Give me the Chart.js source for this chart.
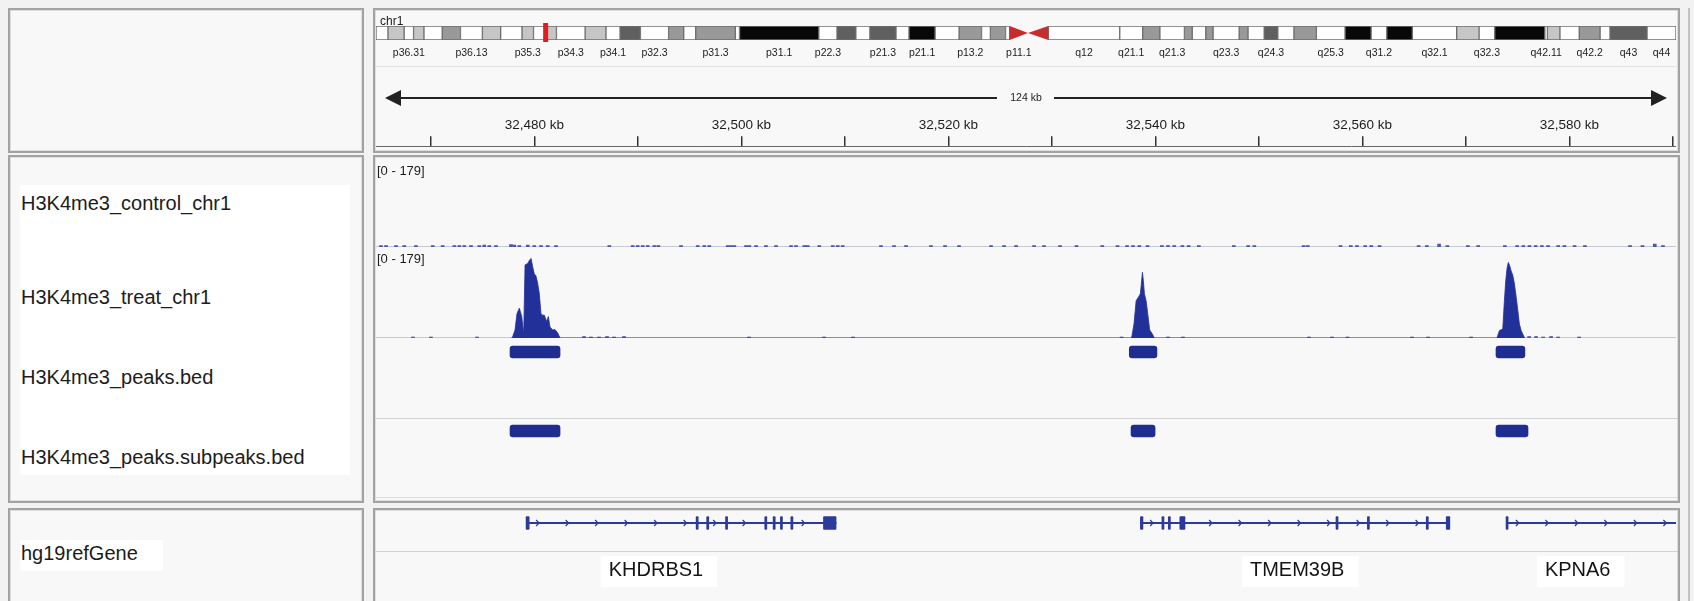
<!DOCTYPE html>
<html>
<head>
<meta charset="utf-8">
<title>IGV view chr1</title>
<script src="https://cdn.jsdelivr.net/npm/chart.js@4.4.1/dist/chart.umd.min.js"></script>
<style>
html,body{margin:0;padding:0;}
body{width:1694px;height:601px;background:#f2f2f2;position:relative;overflow:hidden;font-family:'Liberation Sans',Arial,Helvetica,sans-serif;color:#1c1c1c;}
.box{position:absolute;box-sizing:border-box;border:2px solid #a2a2a2;background:#f8f8f8;box-shadow:inset 0 0 0 1px #dedede;}
.wbg{position:absolute;background:#ffffff;}
.lbl{position:absolute;font-size:20px;line-height:24px;white-space:nowrap;z-index:3;}
.rng{position:absolute;font-size:13px;line-height:15px;white-space:nowrap;z-index:3;}
.hl{position:absolute;height:1px;z-index:1;}
canvas{position:absolute;z-index:2;}
</style>
</head>
<body>
<div class="box" style="left:8px;top:8px;width:356px;height:145px"></div>
<div class="box" style="left:373px;top:8px;width:1307px;height:145px"></div>
<div class="box" style="left:8px;top:155px;width:356px;height:348px"></div>
<div class="box" style="left:373px;top:155px;width:1307px;height:348px"></div>
<div class="box" style="left:8px;top:508px;width:356px;height:110px"></div>
<div class="box" style="left:373px;top:508px;width:1307px;height:110px"></div>
<div style="position:absolute;left:1688px;top:8px;width:2px;height:600px;background:#c4c4c4"></div>

<div class="wbg" style="left:20px;top:185px;width:330px;height:290px"></div>
<div class="wbg" style="left:20px;top:540px;width:143px;height:31px"></div>

<div class="hl" style="left:375px;top:66px;width:1303px;background:#e4e4e4"></div>
<div class="hl" style="left:375px;top:418px;width:1303px;background:#d2d2d2"></div>
<div class="hl" style="left:375px;top:497px;width:1303px;background:#dadada"></div>
<div class="hl" style="left:375px;top:551px;width:1303px;background:#d2d2d2"></div>

<div id="trackLabels"></div>
<div class="rng" id="chrName" style="left:380px;top:14px;font-size:12px;line-height:14px"></div>
<div class="rng" id="rngControl" style="left:377px;top:163px"></div>
<div class="rng" id="rngTreat" style="left:377px;top:251px"></div>

<canvas id="cIdeo" width="1300" height="50" style="left:376px;top:14px"></canvas>
<canvas id="cRuler" width="1300" height="160" style="left:376px;top:66px"></canvas>
<canvas id="cControl" width="1300" height="87" style="left:376px;top:160px"></canvas>
<canvas id="cTreat" width="1300" height="89" style="left:376px;top:249px"></canvas>
<canvas id="cPeaks" width="1300" height="24" style="left:376px;top:340px"></canvas>
<canvas id="cSub" width="1300" height="24" style="left:376px;top:419px"></canvas>
<canvas id="cGenes" width="1300" height="98" style="left:376px;top:503px"></canvas>

<script>
// ---------------- data ----------------
const chromName = 'chr1';
const chromLengthMb = 249.25;
const viewStartKb = 32464.7;
const viewEndKb = 32590.3;
const spanLabel = '124 kb';
const dataRangeMax = 179;

const trackNames = ['H3K4me3_control_chr1', 'H3K4me3_treat_chr1', 'H3K4me3_peaks.bed', 'H3K4me3_peaks.subpeaks.bed', 'hg19refGene'];
const trackLabelCenters = [203, 297, 377, 457, 553];

const bandNames = ['p36.33','p36.32','p36.31','p36.23','p36.22','p36.21','p36.13','p36.12','p36.11','p35.3','p35.2','p35.1','p34.3','p34.2','p34.1','p33','p32.3','p32.2','p32.1','p31.3','p31.2','p31.1','p22.3','p22.2','p22.1','p21.3','p21.2','p21.1','p13.3','p13.2','p13.1','p12','p11.2','p11.1','q11','q12','q21.1','q21.2','q21.3','q22','q23.1','q23.2','q23.3','q24.1','q24.2','q24.3','q25.1','q25.2','q25.3','q31.1','q31.2','q31.3','q32.1','q32.2','q32.3','q41','q42.11','q42.12','q42.13','q42.2','q42.3','q43','q44'];
const bandStartMb = [0,2.3,5.4,7.2,9.2,12.7,16.2,20.4,23.9,28.0,30.2,32.4,34.6,40.1,44.1,46.8,50.7,56.1,59.0,61.3,68.9,69.7,84.9,88.4,92.0,94.7,99.7,102.2,107.2,111.8,116.1,117.8,120.7,121.5,125.0,128.9,142.6,147.0,150.3,155.0,156.5,159.1,160.5,165.5,167.2,170.3,172.9,176.0,180.3,185.8,190.8,193.8,198.7,207.2,211.5,214.5,224.1,224.6,227.0,230.7,234.7,236.6,243.7];
const bandStain = ['gneg','gpos25','gneg','gpos25','gneg','gpos50','gneg','gpos25','gneg','gpos25','gneg','gpos25','gneg','gpos25','gneg','gpos75','gneg','gpos50','gneg','gpos50','gneg','gpos100','gneg','gpos75','gneg','gpos75','gneg','gpos100','gneg','gpos50','gneg','gpos50','gneg','acen','acen','gvar','gneg','gpos50','gneg','gpos50','gneg','gpos50','gneg','gpos50','gneg','gpos75','gneg','gpos50','gneg','gpos100','gneg','gpos100','gneg','gpos25','gneg','gpos100','gneg','gpos25','gneg','gpos50','gneg','gpos75','gneg'];
const labelledBands = ['p36.31','p36.13','p35.3','p34.3','p34.1','p32.3','p31.3','p31.1','p22.3','p21.3','p21.1','p13.2','p11.1','q12','q21.1','q21.3','q23.3','q24.3','q25.3','q31.2','q32.1','q32.3','q42.11','q42.2','q43','q44'];

const rulerTicks = [32470,32480,32490,32500,32510,32520,32530,32540,32550,32560,32570,32580,32590];
const rulerTickLabels = ['','32,480 kb','','32,500 kb','','32,520 kb','','32,540 kb','','32,560 kb','','32,580 kb',''];

// treat coverage (kb, value)
const treatX = [32477.80,32477.91,32478.13,32478.32,32478.55,32478.78,32478.97,32479.10,32479.36,32479.52,32479.68,32479.84,32479.99,32480.15,32480.32,32480.48,32480.64,32480.80,32480.96,32481.19,32481.35,32481.51,32481.77,32481.99,32482.26,32482.48,
  32537.62,32537.72,32537.94,32538.14,32538.36,32538.55,32538.75,32538.84,32538.94,32539.10,32539.26,32539.45,32539.68,32539.90,
  32573.00,32573.08,32573.24,32573.56,32573.72,32573.85,32573.98,32574.10,32574.24,32574.37,32574.53,32574.69,32574.86,32575.02,32575.17,32575.34,32575.60,32575.70];
const treatY = [0,3,16,49,60,43,8,147,150,156,160,143,129,125,110,89,49,46,46,33,43,22,16,17,10,0,
  0,2,29,75,82,89,132,115,89,75,49,16,9,0,
  0,5,15,18,75,115,141,152,145,135,126,109,82,55,28,15,3,0];
const treatDotX = [32468.27,32470.01,32474.46,32484.80,32485.47,32486.25,32487.02,32487.70,32488.66,32500.74,32507.99,32510.79,32536.74,32541.22,32542.67,32554.84,32557.06,32558.56,32564.80,32566.35,32570.50,32576.11,32576.78,32577.46,32578.23,32578.91,32580.94];
const treatDotY = [2,2,2,3,2,2,3,2,3,2,2,2,2,2,2,2,2,2,2,2,2,3,3,2,3,2,2];

// control coverage (kb, value)
const controlDotX = [32465.18,32465.67,32466.63,32467.43,32468.56,32470.18,32471.14,32472.27,32472.75,32473.23,32473.88,32474.68,32475.16,32475.65,32476.29,32477.74,32478.06,32478.55,32479.36,32479.99,32480.64,32481.29,32482.09,32487.24,32489.50,32489.98,32490.47,32490.95,32491.59,32491.98,32494.17,32495.78,32496.42,32496.90,32498.68,32499.00,32499.32,32500.45,32500.77,32501.42,32502.38,32503.35,32504.80,32505.28,32506.08,32506.41,32507.53,32508.83,32509.31,32509.79,32513.49,32514.75,32515.91,32518.32,32519.68,32521.03,32524.12,32525.38,32526.54,32528.28,32529.24,32530.79,32532.38,32534.87,32536.34,32537.26,32537.84,32538.45,32539.24,32540.63,32541.22,32541.82,32542.61,32543.21,32544.20,32547.58,32548.96,32549.56,32554.32,32554.72,32557.89,32558.88,32559.48,32560.27,32560.86,32561.66,32565.43,32566.23,32567.41,32568.21,32570.19,32571.19,32573.76,32574.95,32575.55,32576.14,32576.74,32577.34,32577.94,32578.92,32579.52,32580.50,32581.50,32585.86,32587.06,32588.25,32589.04];
const controlDotY = [3,3,3,3,3,3,3,3,3,3,3,3,4,3,3,5,4,3,4,3,3,3,3,3,3,3,3,3,3,3,3,3,3,3,3,3,3,3,3,3,3,3,3,3,3,3,3,3,3,3,3,3,3,3,3,3,3,3,3,3,3,3,3,3,3,3,3,3,3,3,3,3,3,3,3,3,3,3,3,3,3,3,3,3,3,3,3,3,6,3,3,3,3,3,3,3,3,3,3,3,3,3,3,3,3,6,3];

// peak calls (kb)
const peakStart = [32477.65, 32537.48, 32572.91];
const peakEnd   = [32482.48, 32540.15, 32575.70];
const subpeakStart = [32477.65, 32537.65, 32572.91];
const subpeakEnd   = [32482.48, 32539.97, 32576.00];

// genes (kb)
const geneNames = ['KHDRBS1', 'TMEM39B', 'KPNA6'];
const geneStart = [32479.30, 32538.62, 32573.96];
const geneEnd   = [32509.15, 32568.40, 32601.00];
const geneLabelPos = [32491.75, 32553.70, 32580.80];
const exonStart = [32479.20,32495.63,32496.65,32498.47,32502.26,32503.07,32503.77,32504.78,32507.93,
                   32538.55,32540.63,32541.25,32542.36,32557.45,32560.48,32566.17,32568.10,
                   32573.88];
const exonEnd   = [32479.50,32495.83,32496.85,32498.67,32502.46,32503.27,32503.97,32504.98,32509.15,
                   32538.80,32540.83,32541.45,32542.86,32557.65,32560.68,32566.37,32568.45,
                   32574.08];

// ---------------- styles ----------------
const FONT = "'Liberation Sans', Arial, sans-serif";
const SIGNAL = '#22309a';
const DOT = '#4c56aa';
const BED = '#1f2d90';
const GENE = '#2c3a9c';
const stainColor = {gneg:'#ffffff', gpos25:'#c6c6c6', gpos50:'#999999', gpos75:'#5f5f5f', gpos100:'#080808', gvar:'#ffffff', acen:'rgba(0,0,0,0)'};

// ---------------- html text ----------------
const tl = document.getElementById('trackLabels');
trackNames.forEach((n, i) => {
  const d = document.createElement('div');
  d.className = 'lbl';
  d.style.left = '21px';
  d.style.top = (trackLabelCenters[i] - 12) + 'px';
  d.textContent = n;
  tl.appendChild(d);
});
document.getElementById('chrName').textContent = chromName;
document.getElementById('rngControl').textContent = '[0 - ' + dataRangeMax + ']';
document.getElementById('rngTreat').textContent = '[0 - ' + dataRangeMax + ']';

const common = {
  responsive: false, animation: false, devicePixelRatio: 1, events: [],
};
const noLegend = {legend: {display: false}, tooltip: {enabled: false}};
const xView = {type: 'linear', min: viewStartKb, max: viewEndKb, display: false, offset: false};

// ---------------- ideogram ----------------
const bandEndMb = bandStartMb.map((s, i) => i < bandStartMb.length - 1 ? bandStartMb[i + 1] : chromLengthMb);
const ideoPlugin = {
  id: 'ideo',
  afterDatasetsDraw(chart) {
    const {ctx, chartArea: ca, scales: {x}} = chart;
    const mid = (ca.top + ca.bottom) / 2;
    ctx.save();
    ctx.fillStyle = '#c92c2c';
    bandNames.forEach((n, i) => {
      if (bandStain[i] !== 'acen') return;
      const x0 = x.getPixelForValue(bandStartMb[i]), x1 = x.getPixelForValue(bandEndMb[i]);
      ctx.beginPath();
      if (n[0] === 'p') { ctx.moveTo(x0, ca.top); ctx.lineTo(x1, mid); ctx.lineTo(x0, ca.bottom); }
      else { ctx.moveTo(x1, ca.top); ctx.lineTo(x0, mid); ctx.lineTo(x1, ca.bottom); }
      ctx.closePath(); ctx.fill();
    });
    const c = x.getPixelForValue((viewStartKb + viewEndKb) / 2000);
    const w = Math.max(5, x.getPixelForValue(viewEndKb / 1000) - x.getPixelForValue(viewStartKb / 1000));
    ctx.fillStyle = '#e01e1e';
    ctx.fillRect(c - w / 2, ca.top - 3, w, ca.bottom - ca.top + 5);
    ctx.fillStyle = '#1c1c1c';
    ctx.font = '10.5px ' + FONT;
    ctx.textAlign = 'center';
    ctx.textBaseline = 'middle';
    labelledBands.forEach(n => {
      const i = bandNames.indexOf(n);
      const px = x.getPixelForValue((bandStartMb[i] + bandEndMb[i]) / 2);
      ctx.fillText(n, px, ca.bottom + 13);
    });
    ctx.restore();
  }
};
new Chart(document.getElementById('cIdeo'), {
  type: 'bar',
  data: {
    labels: [chromName],
    datasets: [{
      data: bandStartMb.map((s, i) => ({x: [s, bandEndMb[i]], y: chromName})),
      backgroundColor: bandStain.map(s => stainColor[s]),
      borderColor: '#6e6e6e',
      borderWidth: bandStain.map(s => s === 'acen' ? 0 : 1),
      borderSkipped: false,
      barPercentage: 1, categoryPercentage: 1
    }]
  },
  options: Object.assign({}, common, {
    indexAxis: 'y',
    layout: {padding: {top: 12, bottom: 24, left: 0, right: 0}},
    scales: {x: {type: 'linear', min: 0, max: chromLengthMb, display: false, offset: false}, y: {display: false}},
    plugins: noLegend
  }),
  plugins: [ideoPlugin]
});

// ---------------- ruler ----------------
const arrowPlugin = {
  id: 'spanArrow',
  afterDraw(chart) {
    const {ctx, chartArea: ca} = chart;
    const y = 32, l = ca.left + 9, r = ca.right - 9, cx = (ca.left + ca.right) / 2;
    ctx.save();
    ctx.strokeStyle = '#222'; ctx.fillStyle = '#222'; ctx.lineWidth = 2;
    ctx.beginPath(); ctx.moveTo(l + 10, y); ctx.lineTo(cx - 29, y); ctx.moveTo(cx + 28, y); ctx.lineTo(r - 10, y); ctx.stroke();
    ctx.beginPath(); ctx.moveTo(l, y); ctx.lineTo(l + 16, y - 8); ctx.lineTo(l + 16, y + 8); ctx.closePath(); ctx.fill();
    ctx.beginPath(); ctx.moveTo(r, y); ctx.lineTo(r - 16, y - 8); ctx.lineTo(r - 16, y + 8); ctx.closePath(); ctx.fill();
    ctx.font = '10.5px ' + FONT; ctx.textAlign = 'center'; ctx.textBaseline = 'middle';
    ctx.fillStyle = '#1c1c1c';
    ctx.fillText(spanLabel, cx, y);
    ctx.restore();
  }
};
new Chart(document.getElementById('cRuler'), {
  type: 'scatter',
  data: {datasets: []},
  options: Object.assign({}, common, {
    layout: {padding: {top: 48, left: 0, right: 0, bottom: 0}},
    scales: {
      x: {
        type: 'linear', position: 'top', min: viewStartKb, max: viewEndKb, offset: false,
        afterBuildTicks: s => { s.ticks = rulerTicks.map(v => ({value: v})); },
        ticks: {autoSkip: false, maxRotation: 0, padding: 3, color: '#1c1c1c', font: {family: FONT, size: 13.5},
                callback: (v, i) => rulerTickLabels[i]},
        grid: {drawOnChartArea: false, drawTicks: true, tickLength: 10, color: '#333', lineWidth: 1.5},
        border: {display: true, color: '#666', width: 1}
      },
      y: {display: false}
    },
    plugins: noLegend
  }),
  plugins: [arrowPlugin]
});

// ---------------- signal tracks ----------------
const baselinePlugin = {
  id: 'baseline',
  beforeDatasetsDraw(chart) {
    const {ctx, chartArea: ca, scales: {y}} = chart;
    const py = Math.round(y.getPixelForValue(0)) - 0.5;
    ctx.save(); ctx.strokeStyle = '#c8c8d0'; ctx.lineWidth = 1;
    ctx.beginPath(); ctx.moveTo(ca.left, py); ctx.lineTo(ca.right, py); ctx.stroke(); ctx.restore();
  }
};
function signalChart(id, px, py, dx, dy) {
  const datasets = [];
  if (px) datasets.push({type: 'line', data: px.map((x, i) => ({x, y: py[i]})), fill: 'origin',
    backgroundColor: SIGNAL, borderColor: SIGNAL, borderWidth: 0.8, pointRadius: 0, tension: 0});
  datasets.push({type: 'bar', data: dx.map((x, i) => ({x, y: dy[i]})), backgroundColor: DOT, barThickness: 3});
  new Chart(document.getElementById(id), {
    type: 'line',
    data: {datasets},
    options: Object.assign({}, common, {
      scales: {x: xView, y: {type: 'linear', min: 0, max: dataRangeMax, display: false}},
      plugins: noLegend
    }),
    plugins: [baselinePlugin]
  });
}
signalChart('cControl', null, null, controlDotX, controlDotY);
signalChart('cTreat', treatX, treatY, treatDotX, treatDotY);

// ---------------- bed tracks ----------------
function bedChart(id, s, e) {
  new Chart(document.getElementById(id), {
    type: 'bar',
    data: {labels: ['r'], datasets: [{data: s.map((v, i) => ({x: [v, e[i]], y: 'r'})),
      backgroundColor: BED, barThickness: 12, borderRadius: 3, borderSkipped: false}]},
    options: Object.assign({}, common, {
      indexAxis: 'y',
      scales: {x: xView, y: {display: false}},
      plugins: noLegend
    })
  });
}
bedChart('cPeaks', peakStart, peakEnd);
bedChart('cSub', subpeakStart, subpeakEnd);

// ---------------- genes ----------------
const genePlugin = {
  id: 'geneDeco',
  afterDatasetsDraw(chart) {
    const {ctx, chartArea: ca, scales: {x}} = chart;
    const cy = (ca.top + ca.bottom) / 2;
    const exPx = exonStart.map((s, i) => [x.getPixelForValue(s), x.getPixelForValue(exonEnd[i])]);
    ctx.save();
    ctx.strokeStyle = GENE; ctx.lineWidth = 1.2;
    geneStart.forEach((s, gi) => {
      const x0 = x.getPixelForValue(s), x1 = Math.min(x.getPixelForValue(geneEnd[gi]), ca.right);
      for (let p = x0 + 11; p < x1 - 5; p += 29.5) {
        if (exPx.some(([a, b]) => p > a - 5 && p < b + 5)) continue;
        ctx.beginPath(); ctx.moveTo(p - 2, cy - 3); ctx.lineTo(p + 1, cy); ctx.lineTo(p - 2, cy + 3); ctx.stroke();
      }
    });
    ctx.font = '20px ' + FONT; ctx.textAlign = 'center'; ctx.textBaseline = 'middle';
    geneNames.forEach((n, gi) => {
      const px = x.getPixelForValue(geneLabelPos[gi]);
      const w = ctx.measureText(n).width + 22;
      const ly = ca.bottom + 27;
      ctx.fillStyle = '#ffffff'; ctx.fillRect(px - w / 2 + 3, ly - 14, w, 31);
      ctx.fillStyle = '#141414'; ctx.fillText(n, px, ly);
    });
    ctx.restore();
  }
};
new Chart(document.getElementById('cGenes'), {
  type: 'bar',
  data: {
    labels: ['g'],
    datasets: [
      {data: geneStart.map((s, i) => ({x: [s, geneEnd[i]], y: 'g'})), backgroundColor: GENE, barThickness: 1.4, grouped: false},
      {data: exonStart.map((s, i) => ({x: [s, exonEnd[i]], y: 'g'})), backgroundColor: GENE, barThickness: 13, borderRadius: 1, borderSkipped: false, grouped: false}
    ]
  },
  options: Object.assign({}, common, {
    indexAxis: 'y',
    layout: {padding: {top: 0, bottom: 58, left: 0, right: 0}},
    scales: {x: xView, y: {display: false}},
    plugins: noLegend
  }),
  plugins: [genePlugin]
});
</script>
</body>
</html>
